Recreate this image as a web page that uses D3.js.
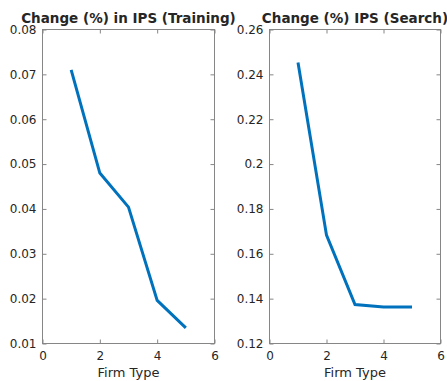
<!DOCTYPE html>
<html>
<head>
<meta charset="utf-8">
<script src="https://cdn.jsdelivr.net/npm/d3@7"></script>
<style>
  html, body { margin: 0; padding: 0; background: #fff; }
  svg { display: block; }
  text { font-family: "DejaVu Sans", sans-serif; fill: #262626; }
</style>
</head>
<body>
<svg id="chart" width="447" height="381"></svg>
<script>
// Firm types on the horizontal axis
const firmTypes = [1, 2, 3, 4, 5];

// Percentage change in IPS under each policy
const trainingChange = [0.0710, 0.0480, 0.0404, 0.0196, 0.0135];
const searchChange   = [0.2453, 0.1683, 0.1374, 0.1363, 0.1363];

// Axis ranges and tick values
const xDomain = [0, 6];
const xTicks = [0, 2, 4, 6];
const trainingDomain = [0.01, 0.08];
const trainingTicks = [0.01, 0.02, 0.03, 0.04, 0.05, 0.06, 0.07, 0.08];
const searchDomain = [0.12, 0.26];
const searchTicks = [0.12, 0.14, 0.16, 0.18, 0.2, 0.22, 0.24, 0.26];

const titles = ["Change (%) in IPS (Training)", "Change (%) IPS (Search)"];
const xLabel = "Firm Type";

const svg = d3.select("#chart");

const panels = [
  { left: 42.5, right: 214.5, values: trainingChange, domain: trainingDomain, ticks: trainingTicks, title: titles[0] },
  { left: 269.5, right: 440.5, values: searchChange, domain: searchDomain, ticks: searchTicks, title: titles[1] }
];
const plotTop = 29.5, plotBottom = 343.5;
const tickLen = 4;
const axisColor = "#868686";

function fmt(v) {
  // tick labels without trailing zeros
  return String(+v.toFixed(4));
}

panels.forEach(p => {
  const x = d3.scaleLinear().domain(xDomain).range([p.left, p.right]);
  const y = d3.scaleLinear().domain(p.domain).range([plotBottom, plotTop]);
  const g = svg.append("g");

  // Box
  g.append("rect")
    .attr("x", p.left).attr("y", plotTop)
    .attr("width", p.right - p.left).attr("height", plotBottom - plotTop)
    .attr("fill", "none").attr("stroke", axisColor).attr("stroke-width", 1);

  // Bottom axis: inward ticks, labels below
  const xb = g.append("g").attr("transform", `translate(0,${plotBottom})`)
    .call(d3.axisBottom(x).tickValues(xTicks).tickSize(-tickLen).tickPadding(8).tickFormat(d3.format("d")));
  // Top axis: inward ticks only
  const xt = g.append("g").attr("transform", `translate(0,${plotTop})`)
    .call(d3.axisTop(x).tickValues(xTicks).tickSize(-tickLen).tickFormat(""));
  // Left axis: inward ticks, labels to the left
  const yl = g.append("g").attr("transform", `translate(${p.left},0)`)
    .call(d3.axisLeft(y).tickValues(p.ticks).tickSize(-tickLen).tickPadding(6).tickFormat(fmt));
  // Right axis: inward ticks only
  const yr = g.append("g").attr("transform", `translate(${p.right},0)`)
    .call(d3.axisRight(y).tickValues(p.ticks).tickSize(-tickLen).tickFormat(""));

  [xb, xt, yl, yr].forEach(a => {
    a.select(".domain").remove();
    a.selectAll(".tick line").attr("stroke", axisColor);
    a.selectAll(".tick text").attr("font-size", 12).attr("fill", "#262626")
      .attr("font-family", "DejaVu Sans, sans-serif");
  });

  // Data line
  const line = d3.line().x((d, i) => x(firmTypes[i])).y(d => y(d));
  g.append("path")
    .datum(p.values)
    .attr("d", line)
    .attr("fill", "none")
    .attr("stroke", "#0072BD")
    .attr("stroke-width", 3);

  // Title
  g.append("text")
    .attr("x", (p.left + p.right) / 2).attr("y", 23)
    .attr("text-anchor", "middle")
    .attr("font-size", 13.5).attr("font-weight", "bold")
    .attr("fill", "#000")
    .text(p.title);

  // X label
  g.append("text")
    .attr("x", (p.left + p.right) / 2).attr("y", 377)
    .attr("text-anchor", "middle")
    .attr("font-size", 13)
    .text(xLabel);
});
</script>
</body>
</html>
